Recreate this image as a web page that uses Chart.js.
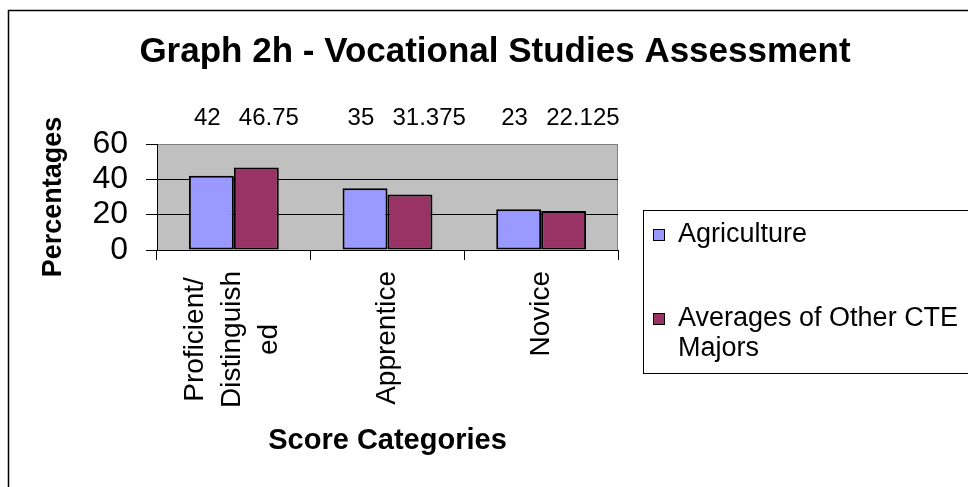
<!DOCTYPE html>
<html><head><meta charset="utf-8">
<script src="https://cdn.jsdelivr.net/npm/chart.js@4.4.1/dist/chart.umd.min.js"></script>
<style>html,body{margin:0;padding:0;background:#fff;}canvas{display:block;}</style>
</head><body>
<canvas id="c" width="968" height="487"></canvas>
<script>
const categories = [['Proficient/', 'Distinguish', 'ed'], ['Apprentice'], ['Novice']];
const seriesNames = ['Agriculture', 'Averages of Other CTE Majors'];
const agriculture = [42, 35, 23];
const otherCTE = [46.75, 31.375, 22.125];
const yTicks = [0, 20, 40, 60];
const titleText = 'Graph 2h - Vocational Studies Assessment';
const yTitle = 'Percentages';
const xTitle = 'Score Categories';
const FONT = "'Liberation Sans', Arial, Helvetica, sans-serif";

const framePlugin = {
  id: 'framePlugin',
  beforeDraw(chart) {
    const {ctx, chartArea: a} = chart;
    ctx.save();
    ctx.fillStyle = '#fff';
    ctx.fillRect(0, 0, chart.width, chart.height);
    ctx.strokeStyle = '#000';
    ctx.lineWidth = 1.5;
    ctx.strokeRect(8.5, 10.5, chart.width + 20, chart.height + 20);
    ctx.fillStyle = '#C0C0C0';
    ctx.fillRect(a.left, a.top, a.right - a.left, a.bottom - a.top);
    ctx.strokeStyle = '#808080';
    ctx.lineWidth = 1;
    ctx.strokeRect(a.left + 0.5, a.top + 0.5, a.right - a.left - 1, a.bottom - a.top);
    ctx.restore();
  }
};

const xLabelPlugin = {
  id: 'xLabelPlugin',
  afterDraw(chart) {
    const {ctx} = chart;
    const xs = chart.scales.x;
    ctx.save();
    ctx.font = '28px ' + FONT;
    ctx.fillStyle = '#000';
    ctx.textAlign = 'center';
    ctx.textBaseline = 'middle';
    chart.data.labels.forEach((lab, i) => {
      const lines = Array.isArray(lab) ? lab : [lab];
      const cx = xs.getPixelForValue(i);
      const maxW = Math.max(...lines.map(l => ctx.measureText(l).width));
      const cy = xs.top + 21 + maxW / 2;
      lines.forEach((l, k) => {
        const x = cx + (k - (lines.length - 1) / 2) * 37 - (lines.length > 1 ? 2 : 0);
        ctx.save();
        ctx.translate(x, cy);
        ctx.rotate(-Math.PI / 2);
        ctx.fillText(l, 0, 0);
        ctx.restore();
      });
    });
    ctx.restore();
  }
};

const dataLabelPlugin = {
  id: 'dataLabelPlugin',
  afterDatasetsDraw(chart) {
    const {ctx} = chart;
    ctx.save();
    ctx.font = '24px ' + FONT;
    ctx.fillStyle = '#000';
    ctx.textAlign = 'left';
    ctx.textBaseline = 'middle';
    chart.data.datasets.forEach((ds, di) => {
      const meta = chart.getDatasetMeta(di);
      meta.data.forEach((bar, i) => {
        const left = bar.x - bar.width / 2;
        ctx.fillText(String(ds.data[i]), left + 5, chart.chartArea.top - 26);
      });
    });
    ctx.restore();
  }
};

const legendPlugin = {
  id: 'legendPlugin',
  afterDraw(chart) {
    const {ctx} = chart;
    const bx = 643.5, by = 210.5, bh = 163;
    ctx.save();
    ctx.strokeStyle = '#000';
    ctx.lineWidth = 1;
    ctx.strokeRect(bx, by, 400, bh);
    ctx.font = '27px ' + FONT;
    ctx.textAlign = 'left';
    ctx.textBaseline = 'middle';
    const itemY = [235, 319];
    const maxW = chart.width - 678 - 2;
    chart.data.datasets.forEach((ds, di) => {
      const words = ds.label.split(' ');
      const lines = [];
      let cur = '';
      words.forEach(w => {
        const t = cur ? cur + ' ' + w : w;
        if (ctx.measureText(t).width > maxW && cur) { lines.push(cur); cur = w; }
        else cur = t;
      });
      if (cur) lines.push(cur);
      const y0 = itemY[di];
      ctx.fillStyle = ds.backgroundColor;
      ctx.fillRect(653, y0 - 6, 12, 12);
      ctx.strokeStyle = '#000';
      ctx.strokeRect(653.5, y0 - 5.5, 11, 11);
      ctx.fillStyle = '#000';
      lines.forEach((l, k) => ctx.fillText(l, 678, y0 + k * 30));
    });
    ctx.restore();
  }
};

new Chart(document.getElementById('c'), {
  type: 'bar',
  data: {
    labels: categories,
    datasets: [
      { label: seriesNames[0], data: agriculture, backgroundColor: '#9999FF', borderColor: '#000', borderWidth: 2, borderSkipped: false },
      { label: seriesNames[1], data: otherCTE, backgroundColor: '#993366', borderColor: '#000', borderWidth: 2, borderSkipped: false }
    ]
  },
  options: {
    responsive: false,
    animation: false,
    devicePixelRatio: 1,
    layout: { padding: { left: 22, right: 0, top: 0, bottom: 0 } },
    datasets: { bar: { categoryPercentage: 0.585, barPercentage: 1.0 } },
    plugins: {
      legend: { display: false },
      tooltip: { enabled: false },
      title: {
        display: true,
        text: titleText,
        color: '#000',
        font: { family: FONT, size: 35, weight: 'bold', lineHeight: 1.2 },
        padding: { top: 31, bottom: 71 }
      }
    },
    scales: {
      x: {
        grid: { display: true, drawOnChartArea: false, drawTicks: true, tickLength: 10, color: '#000', offset: true },
        border: { display: true, color: '#000', width: 1 },
        ticks: { display: false },
        title: {
          display: true, text: xTitle, color: '#000',
          font: { family: FONT, size: 29, weight: 'bold', lineHeight: 1.2 },
          padding: { top: 0, bottom: 28.6 }
        },
        afterFit(s) { s.height = 237; }
      },
      y: {
        min: 0, max: 60,
        afterBuildTicks(s) { s.ticks = yTicks.map(v => ({ value: v })); },
        grid: {
          color: c => (c.tick && c.tick.value === 60 ? '#808080' : '#000'),
          tickColor: '#000',
          lineWidth: 1,
          tickLength: 11
        },
        border: { display: true, color: '#000', width: 1 },
        ticks: { color: '#000', font: { family: FONT, size: 32 }, padding: 18, autoSkip: false },
        title: {
          display: true, text: yTitle, color: '#000',
          font: { family: FONT, size: 27, weight: 'bold', lineHeight: 1.2 },
          padding: { top: 15.8, bottom: 0 }
        },
        afterFit(s) { s.width = 135; }
      },
      y2: {
        position: 'right',
        display: true,
        grid: { display: false },
        border: { display: false },
        ticks: { display: false },
        afterFit(s) { s.width = 350; }
      }
    }
  },
  plugins: [framePlugin, dataLabelPlugin, xLabelPlugin, legendPlugin]
});
</script>
</body></html>
